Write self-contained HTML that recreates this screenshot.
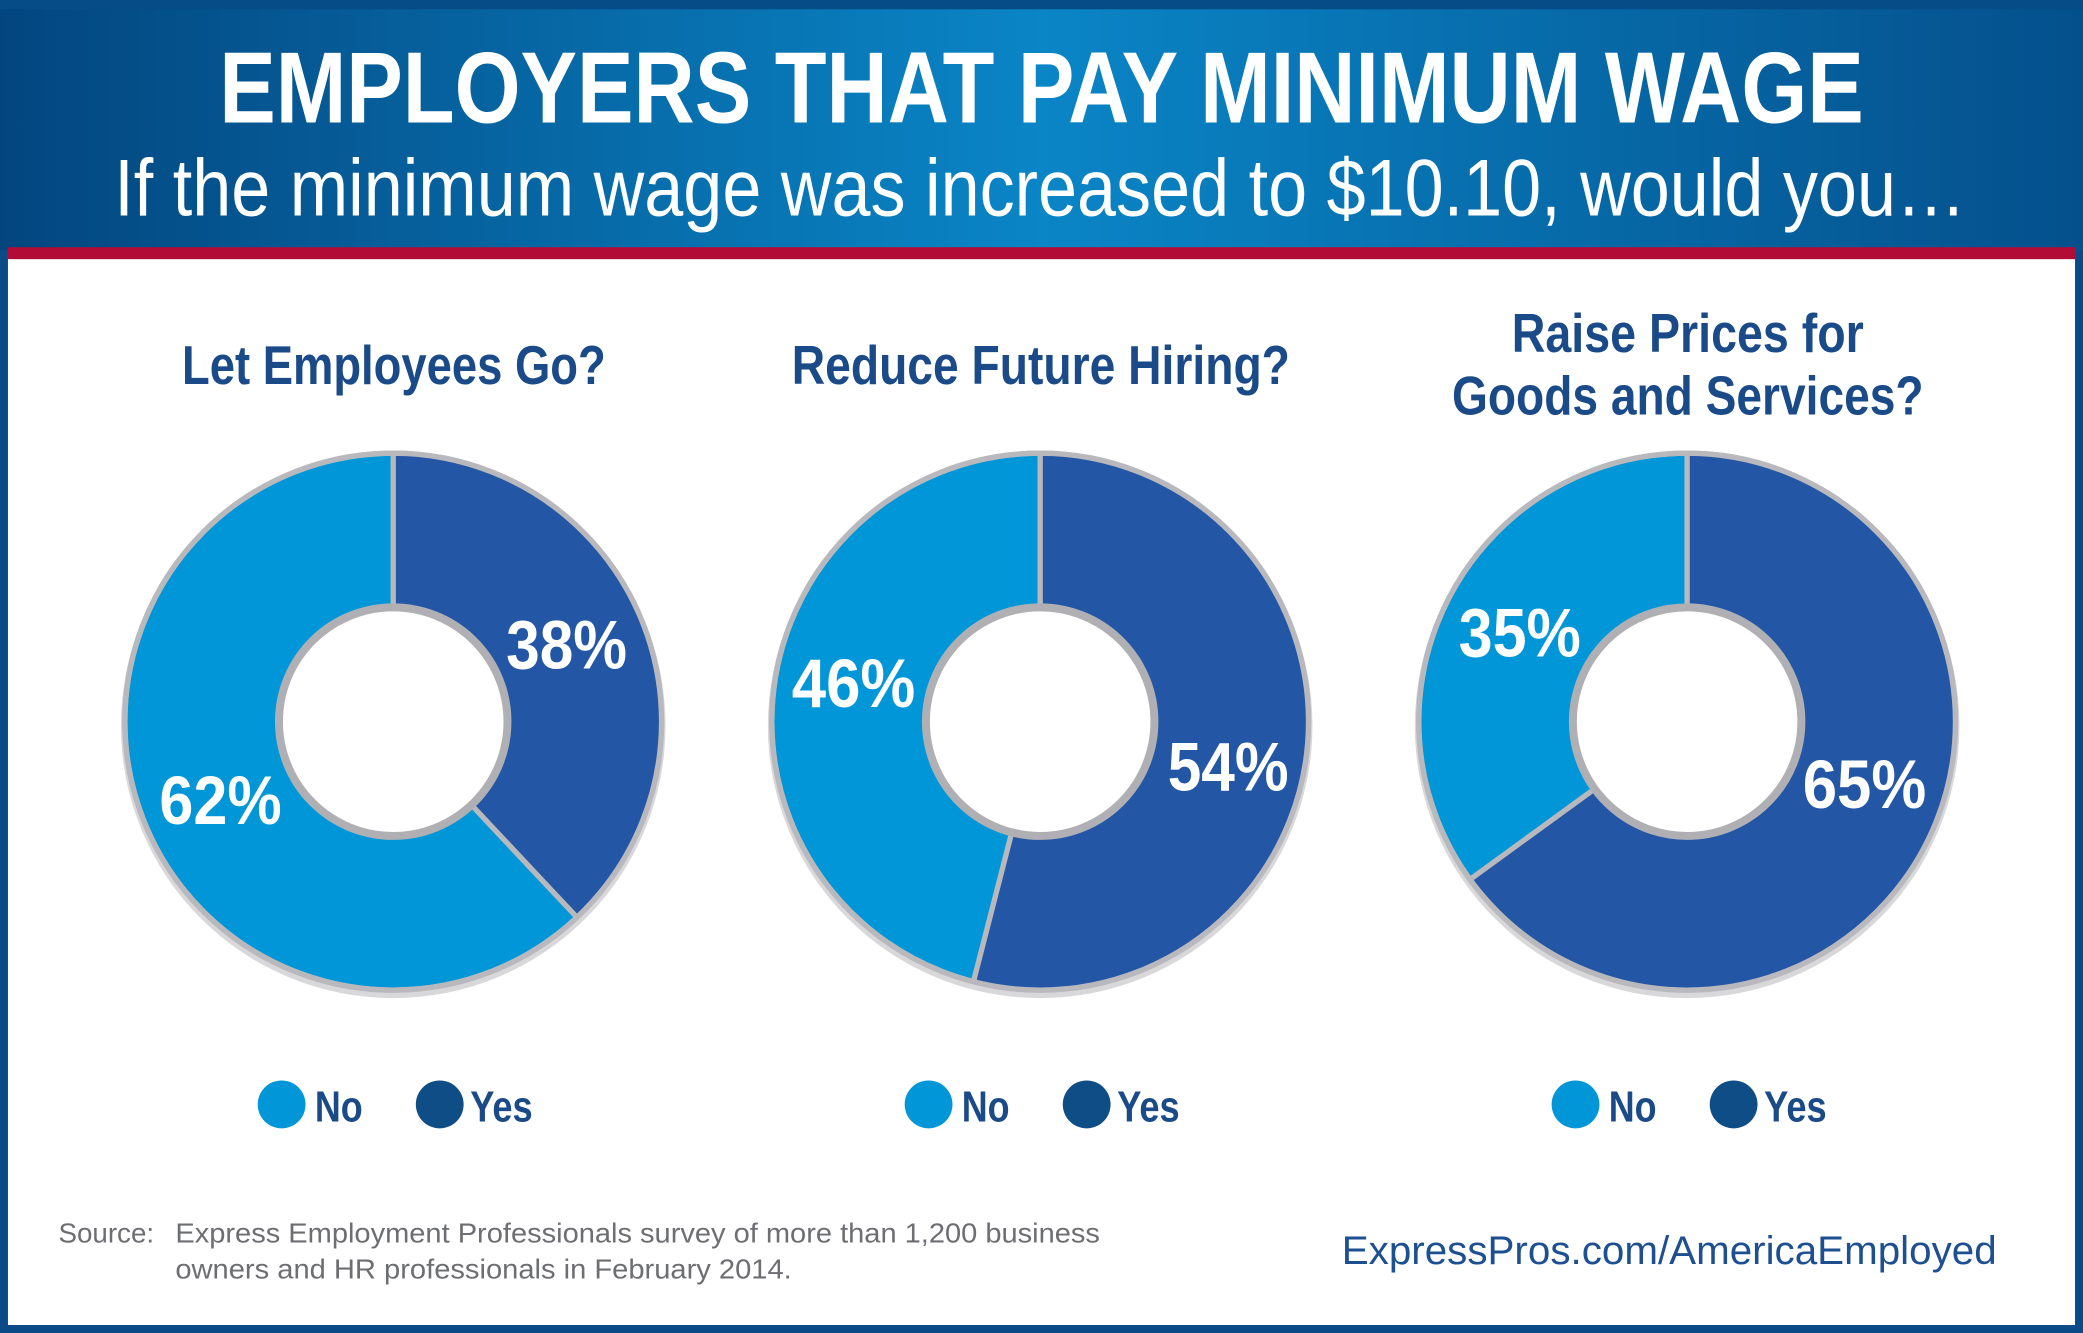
<!DOCTYPE html>
<html><head><meta charset="utf-8"><style>
html,body{margin:0;padding:0;background:#fff}
svg{display:block}
</style></head><body>
<svg id="s" width="2083" height="1333" viewBox="0 0 1568 1003" preserveAspectRatio="none" xmlns="http://www.w3.org/2000/svg">
<defs>
<linearGradient id="hg" x1="0" x2="1" y1="0" y2="0">
<stop offset="0" stop-color="#03467f"/><stop offset="0.5" stop-color="#0a85c6"/><stop offset="1" stop-color="#04508c"/>
</linearGradient>
</defs>
<rect x="0" y="0" width="1568" height="1003" fill="#0a4a86"/>
<rect x="6" y="6" width="1556" height="991" fill="#fff"/>
<rect x="0" y="0" width="1568" height="188" fill="url(#hg)"/>
<rect x="0" y="0" width="1568" height="7" fill="#064c86"/>
<rect x="6" y="186" width="1556" height="9" fill="#b20b36"/>
<g font-family="'Liberation Sans Narrow','Liberation Sans',sans-serif" fill="#fff">
<text x="165" y="92" font-size="76" font-weight="bold" textLength="1238" lengthAdjust="spacingAndGlyphs">EMPLOYERS THAT PAY MINIMUM WAGE</text>
<text x="86" y="162" font-size="61" textLength="1394" lengthAdjust="spacingAndGlyphs">If the minimum wage was increased to $10.10, would you…</text>
</g>
<g font-family="'Liberation Sans Narrow','Liberation Sans',sans-serif" font-weight="bold" fill="#1a4a88" font-size="41">
<text x="137" y="289" textLength="319" lengthAdjust="spacingAndGlyphs">Let Employees Go?</text>
<text x="596" y="289" textLength="375" lengthAdjust="spacingAndGlyphs">Reduce Future Hiring?</text>
<text x="1138" y="265" textLength="265" lengthAdjust="spacingAndGlyphs">Raise Prices for</text>
<text x="1093" y="312" textLength="355" lengthAdjust="spacingAndGlyphs">Goods and Services?</text>
</g>
<g id="donuts"></g>
<g font-family="'Liberation Sans Narrow','Liberation Sans',sans-serif" font-weight="bold" fill="#fff" font-size="52">
<text x="381" y="503" textLength="91" lengthAdjust="spacingAndGlyphs">38%</text>
<text x="120" y="620" textLength="92" lengthAdjust="spacingAndGlyphs">62%</text>
<text x="596" y="532" textLength="93" lengthAdjust="spacingAndGlyphs">46%</text>
<text x="879" y="595" textLength="91" lengthAdjust="spacingAndGlyphs">54%</text>
<text x="1098" y="494" textLength="92" lengthAdjust="spacingAndGlyphs">35%</text>
<text x="1357" y="608" textLength="93" lengthAdjust="spacingAndGlyphs">65%</text>
</g>
<g id="legend" font-family="'Liberation Sans Narrow','Liberation Sans',sans-serif" font-weight="bold" fill="#1a4a88" font-size="33"></g>
<g font-family="'Liberation Sans',sans-serif" fill="#6d6e71" font-size="21">
<text x="44" y="935" textLength="72" lengthAdjust="spacingAndGlyphs">Source:</text>
<text x="132" y="935" textLength="696" lengthAdjust="spacingAndGlyphs">Express Employment Professionals survey of more than 1,200 business</text>
<text x="132" y="962" textLength="464" lengthAdjust="spacingAndGlyphs">owners and HR professionals in February 2014.</text>
</g>
<text x="1010" y="951" font-family="'Liberation Sans',sans-serif" font-size="30" fill="#1d4f91" textLength="493" lengthAdjust="spacingAndGlyphs">ExpressPros.com/AmericaEmployed</text>
</svg>
<script>
var NS="http://www.w3.org/2000/svg";
function el(t,a,p){var e=document.createElementNS(NS,t);for(var k in a)e.setAttribute(k,a[k]);p.appendChild(e);return e;}
var g=document.getElementById('donuts'),lg=document.getElementById('legend');
var cx=[296,783,1270],cy=543,R=202,r=86,yes=[0.38,0.54,0.65];
for(var i=0;i<3;i++){
 var c=cx[i],th=yes[i]*2*Math.PI;
 el('circle',{cx:c,cy:cy+3,r:R+3,fill:'#d8d8da'},g);
 el('circle',{cx:c,cy:cy,r:R,fill:'#0096d7',stroke:'#b9b9bd','stroke-width':4},g);
 var ex=c+R*Math.sin(th),ey=cy-R*Math.cos(th),lf=th>Math.PI?1:0;
 el('path',{d:'M'+c+','+cy+' L'+c+','+(cy-R)+' A'+R+','+R+' 0 '+lf+' 1 '+ex+','+ey+' Z',fill:'#2357a6'},g);
 el('circle',{cx:c,cy:cy,r:R,fill:'none',stroke:'#b9b9bd','stroke-width':4},g);
 el('line',{x1:c,y1:cy-R,x2:c,y2:cy-r,stroke:'#b9b9bd','stroke-width':4},g);
 el('line',{x1:c+r*Math.sin(th),y1:cy-r*Math.cos(th),x2:ex,y2:ey,stroke:'#b9b9bd','stroke-width':4},g);
 el('circle',{cx:c,cy:cy,r:r,fill:'#fff',stroke:'#b0b0b4','stroke-width':6},g);
 var o=i*487;
 el('circle',{cx:212+o,cy:831,r:18,fill:'#0096d7'},lg);
 el('circle',{cx:331+o,cy:831,r:18,fill:'#0f4d86'},lg);
 var t1=el('text',{x:237+o,y:844,textLength:36,lengthAdjust:'spacingAndGlyphs'},lg);t1.textContent='No';
 var t2=el('text',{x:354+o,y:844,textLength:47,lengthAdjust:'spacingAndGlyphs'},lg);t2.textContent='Yes';
}
</script>
</body></html>
